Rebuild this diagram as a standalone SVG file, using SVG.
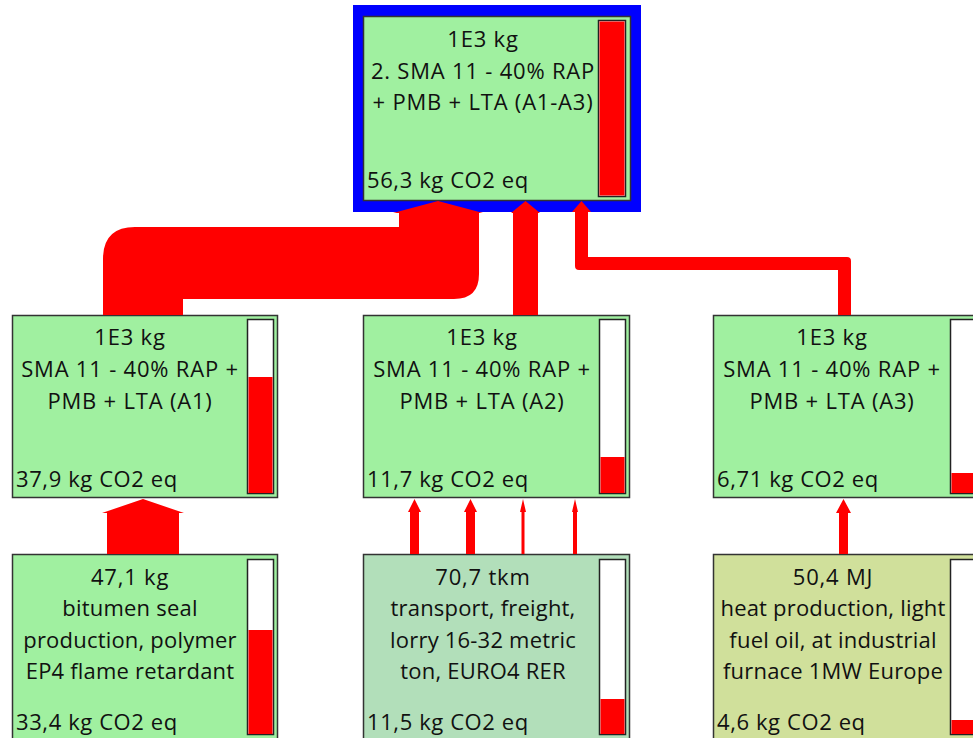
<svg xmlns="http://www.w3.org/2000/svg" width="973" height="738" viewBox="0 0 973 738">
<style>
.box{stroke:#333;stroke-width:1.5}
.g{fill:#a0f0a0}
.t{fill:#b2dfba}
.h{fill:#d0e09b}
.bar{fill:#fff;stroke:#222;stroke-width:1.5}
.red{fill:#ff0000}
text{font-family:"Open Sans","Noto Sans",sans-serif;font-size:22px;letter-spacing:0.8px;fill:#111}
text.lc{letter-spacing:0.2px}
.c{text-anchor:middle}
</style>
<rect width="973" height="738" fill="#fff"/>
<g id="node-top">
<rect x="353" y="5" width="288" height="207" fill="#0000ff"/>
<rect class="box g" x="363.5" y="16.5" width="267" height="184"/>
<rect class="bar" x="598.5" y="20.5" width="27" height="176"/>
<rect class="red" x="599.5" y="21.5" width="25" height="174"/>
<text class="c" x="483" y="47">1E3 kg</text>
<text class="c" x="483" y="79">2. SMA 11 - 40% RAP</text>
<text class="c" x="483" y="110">+ PMB + LTA (A1-A3)</text>
<text x="367" y="188" style="letter-spacing:0.6px">56,3 kg CO2 eq</text>
</g>
<g id="node-a1">
<rect class="box g" x="12.5" y="315.5" width="265" height="182"/>
<rect class="bar" x="247.5" y="319.5" width="26" height="174"/>
<rect class="red" x="248.5" y="377" width="24" height="116"/>
<text class="c" x="130" y="345">1E3 kg</text>
<text class="c" x="130" y="377">SMA 11 - 40% RAP +</text>
<text class="c" x="130" y="409">PMB + LTA (A1)</text>
<text x="16" y="487" style="letter-spacing:0.6px">37,9 kg CO2 eq</text>
</g>
<g id="node-a2">
<rect class="box g" x="363.5" y="315.5" width="266" height="182"/>
<rect class="bar" x="599.5" y="319.5" width="26" height="174"/>
<rect class="red" x="600.5" y="457" width="24" height="36"/>
<text class="c" x="482" y="345">1E3 kg</text>
<text class="c" x="482" y="377">SMA 11 - 40% RAP +</text>
<text class="c" x="482" y="409">PMB + LTA (A2)</text>
<text x="367" y="487" style="letter-spacing:0.6px">11,7 kg CO2 eq</text>
</g>
<g id="node-a3">
<rect class="box g" x="713.5" y="315.5" width="266" height="182"/>
<rect class="bar" x="950.5" y="319.5" width="26" height="174"/>
<rect class="red" x="951.5" y="473" width="24" height="20"/>
<text class="c" x="832" y="345">1E3 kg</text>
<text class="c" x="832" y="377">SMA 11 - 40% RAP +</text>
<text class="c" x="832" y="409">PMB + LTA (A3)</text>
<text x="717" y="487" style="letter-spacing:0.6px">6,71 kg CO2 eq</text>
</g>
<g id="node-bitumen">
<rect class="box g" x="12.5" y="554.5" width="265" height="190"/>
<rect class="bar" x="247.5" y="559.5" width="26" height="175"/>
<rect class="red" x="248.5" y="630" width="24" height="104"/>
<text class="c" x="130" y="585">47,1 kg</text>
<text class="c lc" x="130" y="616">bitumen seal</text>
<text class="c lc" x="130" y="648">production, polymer</text>
<text class="c lc" x="130" y="679">EP4 flame retardant</text>
<text x="16" y="730" style="letter-spacing:0.6px">33,4 kg CO2 eq</text>
</g>
<g id="node-transport">
<rect class="box t" x="363.5" y="554.5" width="266" height="190"/>
<rect class="bar" x="599.5" y="559.5" width="26" height="175"/>
<rect class="red" x="600.5" y="699" width="24" height="35"/>
<text class="c" x="483" y="585">70,7 tkm</text>
<text class="c lc" x="483" y="616">transport, freight,</text>
<text class="c lc" x="483" y="648">lorry 16-32 metric</text>
<text class="c lc" x="483" y="679">ton, EURO4 RER</text>
<text x="367" y="730" style="letter-spacing:0.6px">11,5 kg CO2 eq</text>
</g>
<g id="node-heat">
<rect class="box h" x="713.5" y="554.5" width="266" height="190"/>
<rect class="bar" x="950.5" y="559.5" width="26" height="175"/>
<rect class="red" x="951.5" y="720" width="24" height="14"/>
<text class="c" x="833" y="585">50,4 MJ</text>
<text class="c lc" x="833" y="616">heat production, light</text>
<text class="c lc" x="833" y="648">fuel oil, at industrial</text>
<text class="c lc" x="833" y="679">furnace 1MW Europe</text>
<text x="717" y="730" style="letter-spacing:0.6px">4,6 kg CO2 eq</text>
</g>
<g id="connectors" fill="#ff0000">
<path d="M103 315 L103 259 Q103 227 135 227 L399 227 L399 213 L393 213 L438 201 L483 213 L479 213 L479 274 Q479 299 454 299 L183 299 L183 315 Z"/>
<path d="M513 315 L513 213 L511 213 L525.5 201 L540 213 L538 213 L538 315 Z"/>
<path d="M838 315 L838 270 L579 270 Q575 270 575 266 L575 212 L572 212 L581.5 201 L591 212 L588 212 L588 257 L847 257 Q851 257 851 261 L851 315 Z"/>
<path d="M107 554 L107 513 L102 513 L143 499 L184 513 L179 513 L179 554 Z"/>
<path d="M410 554 L410 512 L408 512 L414.5 499 L421 512 L419 512 L419 554 Z"/>
<path d="M466 554 L466 512 L464 512 L470.5 499 L477 512 L475 512 L475 554 Z"/>
<path d="M521.5 554 L521.5 512 L520 512 L523 499 L526 512 L524.5 512 L524.5 554 Z"/>
<path d="M573 554 L573 512 L572 512 L575 499 L578 512 L577 512 L577 554 Z"/>
<path d="M839 554 L839 513 L836 513 L843.5 499 L851 513 L848 513 L848 554 Z"/>
</g>
</svg>
